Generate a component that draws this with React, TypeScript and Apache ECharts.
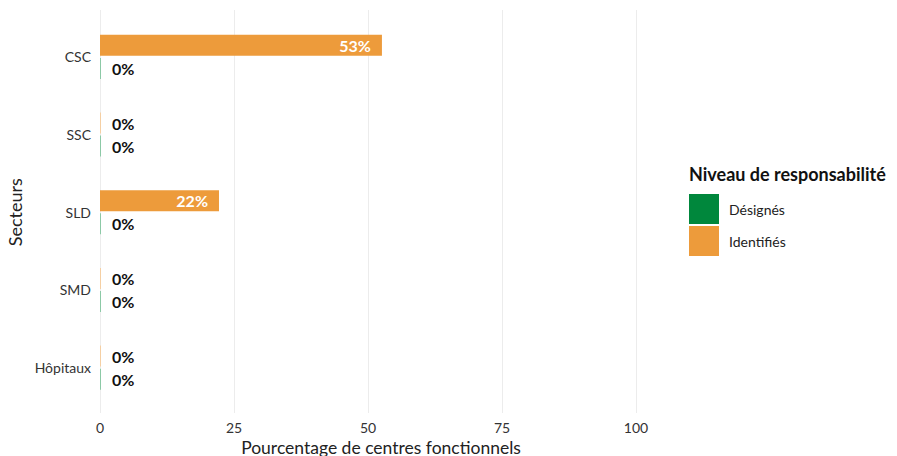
import React, { useEffect, useRef } from "react";
import * as echarts from "echarts";

const categories = ["CSC", "SSC", "SLD", "SMD", "Hôpitaux"];
const identifies = [52.6, 0, 22.2, 0, 0];
const designes = [0, 0, 0, 0, 0];
const xTickLabels = ["0", "25", "50", "75", "100"];

const GREEN = "#00873C";
const ORANGE = "#ED9B3B";
const GREEN_LIGHT = "#8cc9a6";
const ORANGE_LIGHT = "#f5cfa3";
const FONT = "Lato, 'Noto Sans', sans-serif";

function makeData(values: number[], light: string) {
  return values.map((v) => ({
    value: v,
    itemStyle: v === 0 ? { color: light } : undefined,
    label:
      v === 0
        ? { position: "right", distance: 11, color: "#111" }
        : { position: "insideRight", distance: 11, color: "#ffffff" },
  }));
}

export default function App() {
  const ref = useRef<HTMLDivElement>(null);
  useEffect(() => {
    if (!ref.current) return;
    const chart = echarts.init(ref.current, undefined, { renderer: "svg" });
    const labelCommon = {
      show: true,
      fontFamily: FONT,
      fontWeight: "bold",
      fontSize: 16,
      formatter: (p: any) => `${Math.round(p.value)}%`,
    };
    chart.setOption({
      animation: false,
      backgroundColor: "#ffffff",
      textStyle: { fontFamily: FONT },
      title: {
        text: "Niveau de responsabilité",
        left: 684,
        top: 160,
        textStyle: { fontFamily: FONT, fontWeight: "bold", fontSize: 18, color: "#111" },
      },
      legend: {
        data: ["Désignés", "Identifiés"],
        orient: "vertical",
        left: 684,
        top: 189,
        itemWidth: 30,
        itemHeight: 30,
        itemGap: 2,
        icon: "rect",
        selectedMode: false,
        textStyle: { fontFamily: FONT, fontSize: 14, color: "#222", padding: [0, 0, 0, 5] },
      },
      grid: [
        { left: 100, top: 10, width: 536, height: 403, outerBoundsMode: "none", containLabel: false },
        { left: 100, top: 18, width: 536, height: 388.5, outerBoundsMode: "none", containLabel: false },
      ],
      xAxis: [
        {
          gridIndex: 0,
          type: "value",
          min: 0,
          max: 100,
          interval: 25,
          axisLine: { show: false },
          axisTick: { show: false },
          axisLabel: {
            margin: 7,
            fontSize: 14,
            color: "#333",
            fontFamily: FONT,
            formatter: (v: number) => xTickLabels[Math.round(v / 25)] ?? "",
          },
          splitLine: { show: true, lineStyle: { color: "#ececec", width: 1 } },
          name: "Pourcentage de centres fonctionnels",
          nameLocation: "middle",
          nameGap: 22,
          nameTextStyle: { fontSize: 17.5, color: "#222", fontFamily: FONT, padding: [0, 0, 0, 26] },
        },
        {
          gridIndex: 1,
          type: "value",
          min: 0,
          max: 100,
          show: false,
          splitLine: { show: false },
        },
      ],
      yAxis: [
        {
          gridIndex: 0,
          type: "category",
          data: categories,
          show: false,
        },
        {
          gridIndex: 1,
          type: "category",
          data: categories,
          inverse: true,
          axisLine: { show: false },
          axisTick: { show: false },
          axisLabel: { margin: 9, fontSize: 14, color: "#333", fontFamily: FONT },
          name: "Secteurs",
          nameLocation: "middle",
          nameGap: 75,
          nameTextStyle: { fontSize: 18, color: "#222", fontFamily: FONT },
        },
      ],
      series: [
        {
          name: "Identifiés",
          type: "bar",
          xAxisIndex: 1,
          yAxisIndex: 1,
          data: makeData(identifies, ORANGE_LIGHT),
          itemStyle: { color: ORANGE },
          barWidth: 21,
          barGap: "10%",
          barMinHeight: 1,
          label: labelCommon,
        },
        {
          name: "Désignés",
          type: "bar",
          xAxisIndex: 1,
          yAxisIndex: 1,
          data: makeData(designes, GREEN_LIGHT),
          itemStyle: { color: GREEN },
          barWidth: 21,
          barGap: "10%",
          barMinHeight: 1,
          label: labelCommon,
        },
      ],
    });
    return () => chart.dispose();
  }, []);
  return (
    <div
      ref={ref}
      style={{ position: "absolute", left: 0, top: 0, width: 897, height: 456 }}
    />
  );
}
